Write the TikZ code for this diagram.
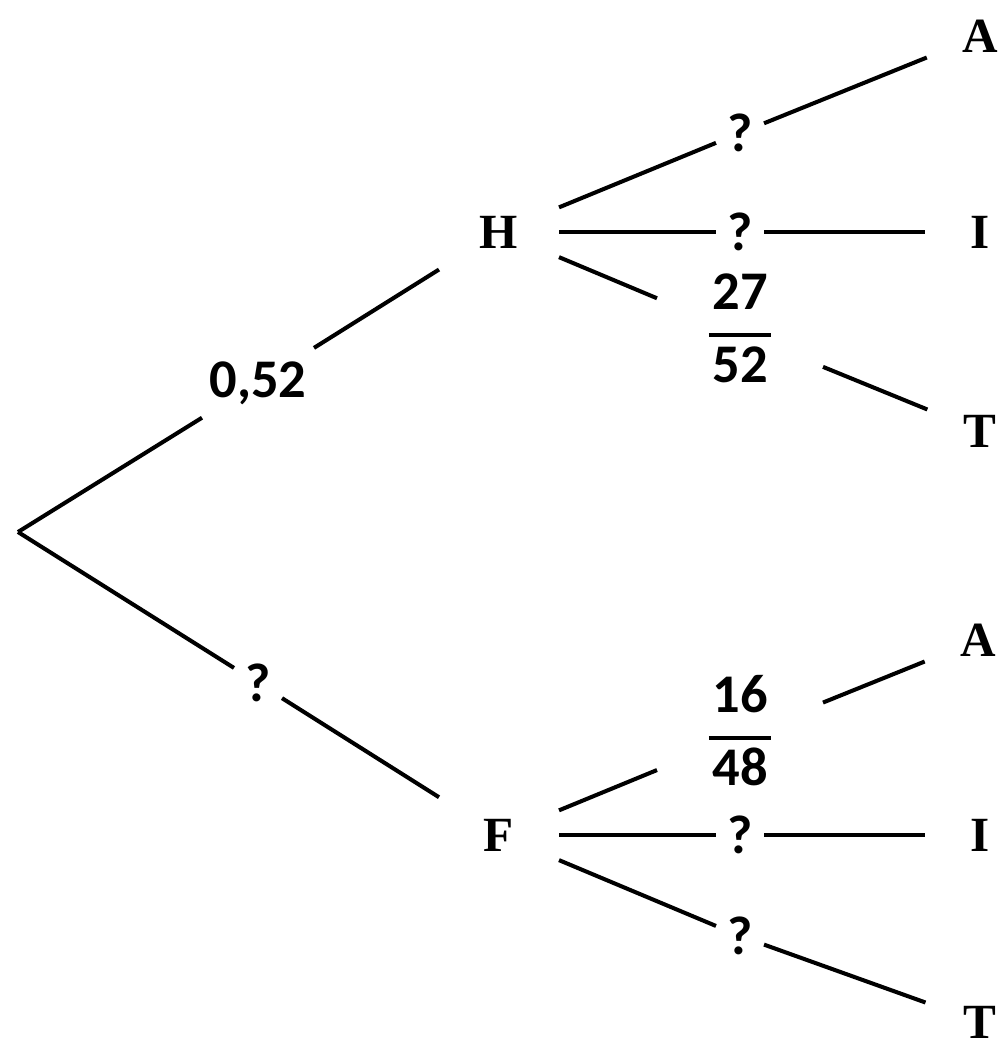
\documentclass[tikz,border=0pt]{standalone}
\usepackage{fontspec}
\setmainfont{Liberation Serif}
\newfontfamily\labelfont{Carlito}
\usepackage{tikz}
\usetikzlibrary{positioning}
\newcommand{\probfrac}[2]{{\setlength{\arrayrulewidth}{2pt}\begin{tabular}{@{\hspace{2pt}}c@{\hspace{2pt}}}#1\\[2pt]\hline #2\end{tabular}}}

\begin{document}
\begin{tikzpicture}[x=0.02cm, y=-0.02cm, line width=2.3pt,
    event/.style={font=\fontsize{28}{30}\selectfont\bfseries, inner sep=0pt, minimum width=2.32cm, minimum height=1.6cm},
    leaf/.style={font=\fontsize{28}{30}\selectfont\bfseries, inner sep=0pt, minimum width=2.1cm, minimum height=0.78cm},
    prob/.style={font=\labelfont\bfseries\fontsize{31}{37}\selectfont, inner sep=0pt, minimum width=0.88cm, minimum height=0.9cm},
    fracprob/.style={prob, minimum width=3.24cm}]

    \useasboundingbox (0,0) rectangle (1001,1052);

    % Nodes
    \coordinate (root) at (18,532);
    \node at (499,232) (H) [event] {H};
    \node at (499,835) (F) [event] {F};

    \node at (980,36) (hA) [leaf] {A};
    \node at (980,232) (hI) [leaf] {I};
    \node at (980,431) (hT) [leaf] {T};
    \node at (978,640) (fA) [leaf] {A};
    \node at (980,835) (fI) [leaf] {I};
    \node at (980,1022) (fT) [leaf] {T};

    % Probabilities
    \node at (258,383) (pH) [prob, minimum width=2.16cm, minimum height=1.5cm] {0,52};
    \node at (258,683) (pF) [prob] {?};
    \node at (740,133) (pHA) [prob] {?};
    \node at (740,232) (pHI) [prob] {?};
    \node at (740,333) (pHT) [fracprob] {\probfrac{27}{52}};
    \node at (740,736) (pFA) [fracprob] {\probfrac{16}{48}};
    \node at (740,835) (pFI) [prob] {?};
    \node at (740,936) (pFT) [prob] {?};

    % Branches
    \draw (root) -- (pH) -- (H);
    \draw (root) -- (pF) -- (F);
    \draw (H) -- (pHA) -- (hA);
    \draw (H) -- (pHI) -- (hI);
    \draw (H) -- (pHT) -- (hT);
    \draw (F) -- (pFA) -- (fA);
    \draw (F) -- (pFI) -- (fI);
    \draw (F) -- (pFT) -- (fT);

\end{tikzpicture}
\end{document}
